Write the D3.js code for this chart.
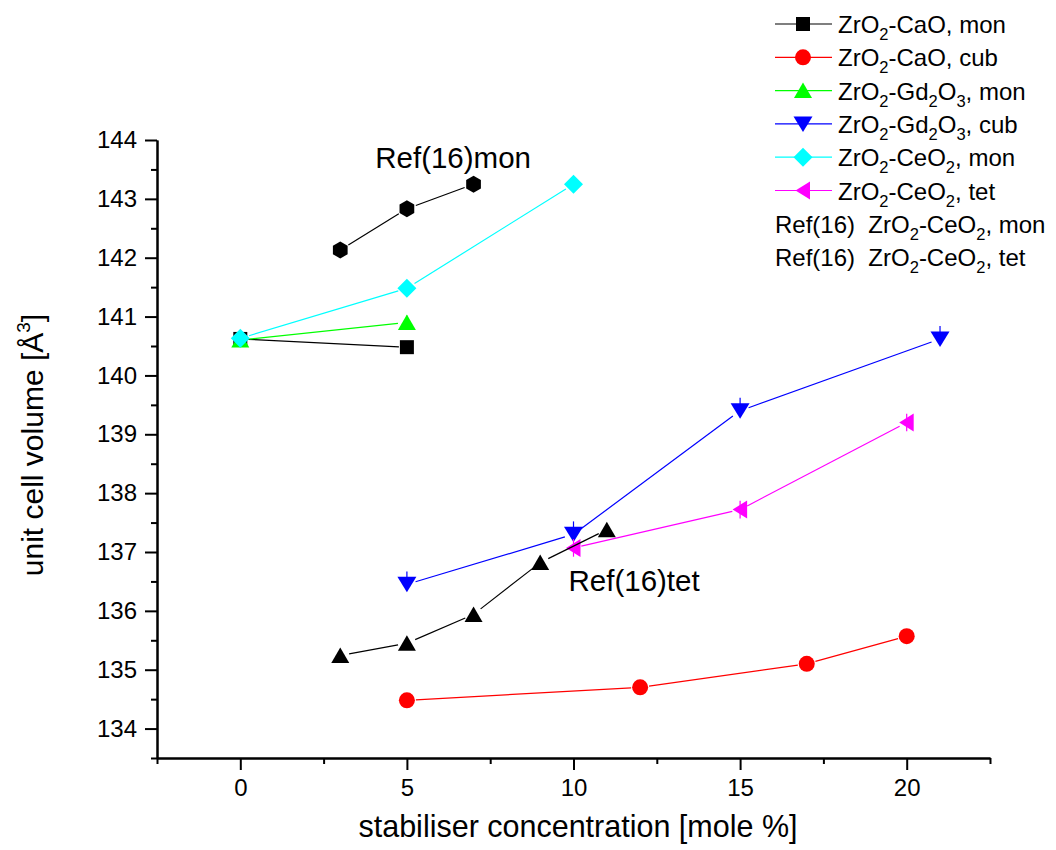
<!DOCTYPE html>
<html>
<head>
<meta charset="utf-8">
<script src="https://cdn.jsdelivr.net/npm/d3@7"></script>
<style>
  body { margin: 0; background: #fff; }
  svg { display: block; font-family: "Liberation Sans", Arial, sans-serif; }
</style>
</head>
<body>
<script>
// ---- data ----
const caoMonX = [0, 5];
const caoMonY = [140.62, 140.48];
const caoCubX = [5, 12, 17, 20];
const caoCubY = [134.48, 134.70, 135.10, 135.57];
const gdMonX = [0, 5];
const gdMonY = [140.60, 140.90];
const gdMonErr = [0.12, 0.12];
const gdCubX = [5, 10, 15, 21];
const gdCubY = [136.45, 137.30, 139.40, 140.62];
const gdCubErr = [0.22, 0.22, 0.22, 0.22];
const ceMonX = [0, 5, 10];
const ceMonY = [140.63, 141.48, 143.25];
const ceTetX = [10, 15, 20];
const ceTetY = [137.07, 137.72, 139.20];
const ceTetErr = [0.15, 0.15, 0.15];
const refMonX = [3, 5, 7];
const refMonY = [142.13, 142.83, 143.25];
const refTetX = [3, 5, 7, 9, 11];
const refTetY = [135.24, 135.45, 135.94, 136.82, 137.38];

const xTicks = [0, 5, 10, 15, 20];
const xMinorTicks = [-2.5, 2.5, 7.5, 12.5, 17.5, 22.5];
const yTicks = [134, 135, 136, 137, 138, 139, 140, 141, 142, 143, 144];
const yMinorTicks = [133.5, 134.5, 135.5, 136.5, 137.5, 138.5, 139.5, 140.5, 141.5, 142.5, 143.5];

const legendLabels = [
    "ZrO_2-CaO, mon",
    "ZrO_2-CaO, cub",
    "ZrO_2-Gd_2O_3, mon",
    "ZrO_2-Gd_2O_3, cub",
    "ZrO_2-CeO_2, mon",
    "ZrO_2-CeO_2, tet",
    "Ref(16)  ZrO_2-CeO_2, mon",
    "Ref(16)  ZrO_2-CeO_2, tet"
];

// series: drawing order = legend order, the Ref(16) ones last
const series = [
    { x: caoMonX, y: caoMonY, color: "#000000", shape: "square", gap: 8, legend: 0 },
    { x: caoCubX, y: caoCubY, color: "#ff0000", shape: "circle", gap: 9, legend: 1 },
    { x: gdMonX, y: gdMonY, color: "#00ff00", shape: "up", gap: 9, legend: 2, errUp: gdMonErr, errDown: gdMonErr },
    { x: gdCubX, y: gdCubY, color: "#0000ff", shape: "down", gap: 9, legend: 3, errUp: gdCubErr },
    { x: ceMonX, y: ceMonY, color: "#00ffff", shape: "diamond", gap: 9, legend: 4 },
    { x: ceTetX, y: ceTetY, color: "#ff00ff", shape: "left", gap: 8, legend: 5, errUp: ceTetErr, errDown: ceTetErr },
    { x: refMonX, y: refMonY, color: "#000000", shape: "hex", gap: 9.5 },
    { x: refTetX, y: refTetY, color: "#000000", shape: "up", gap: 9 }
];

const total_width = 1056, total_height = 850;
const plot = { left: 157, right: 990, top: 140, bottom: 758 };

const svg = d3.select("body").append("svg")
    .attr("width", total_width)
    .attr("height", total_height);

const x = d3.scaleLinear().domain([-2.5, 22.5]).range([plot.left, plot.right]);
const y = d3.scaleLinear().domain([133.5, 144]).range([plot.bottom, plot.top]);

function markerPath(shape) {
    switch (shape) {
        case "square": return "M-7,-7H7V7H-7Z";
        case "circle": return d3.symbol(d3.symbolCircle, Math.PI * 64)();
        case "up": return "M0,-8L9,7.5L-9,7.5Z";
        case "down": return "M0,8L9.5,-7.5L-9.5,-7.5Z";
        case "left": return "M-7.5,0L7,-9L7,9Z";
        case "diamond": return "M0,-9.5L9.5,0L0,9.5L-9.5,0Z";
        case "hex": {
            const pts = d3.range(6).map(k => {
                const a = (-90 + 60 * k) * Math.PI / 180;
                return [8.5 * Math.cos(a), 8.5 * Math.sin(a)];
            });
            return "M" + pts.map(p => p.join(",")).join("L") + "Z";
        }
    }
}

// text with "_c" meaning subscript c
function richText(sel, str, subSize, subOff) {
    const parts = str.split(/_(.)/);
    let shift = 0;
    parts.forEach((p, i) => {
        const isSub = i % 2 === 1;
        const target = isSub ? subOff : 0;
        if (!p) return;
        sel.append("tspan")
            .attr("dy", target - shift)
            .attr("font-size", isSub ? subSize : null)
            .text(p);
        shift = target;
    });
}

// ---- axes ----
svg.append("g")
    .attr("class", "x_axis")
    .attr("transform", "translate(0," + plot.bottom + ")")
    .call(d3.axisBottom(x).tickValues(xTicks).tickSize(12).tickSizeOuter(0).tickPadding(9));
svg.append("g")
    .attr("transform", "translate(0," + plot.bottom + ")")
    .call(d3.axisBottom(x).tickValues(xMinorTicks).tickSize(6).tickSizeOuter(0).tickFormat(""));

svg.append("g")
    .attr("class", "y_axis")
    .attr("transform", "translate(" + plot.left + ",0)")
    .call(d3.axisLeft(y).tickValues(yTicks).tickSize(12).tickSizeOuter(0).tickPadding(8));
svg.append("g")
    .attr("transform", "translate(" + plot.left + ",0)")
    .call(d3.axisLeft(y).tickValues(yMinorTicks).tickSize(6).tickSizeOuter(0).tickFormat(""));

svg.selectAll(".domain, .tick line")
    .attr("stroke", "#000")
    .attr("stroke-width", 2);
svg.selectAll(".tick text")
    .attr("fill", "#000")
    .attr("font-size", 24);

// axis titles
svg.append("text")
    .attr("x", 578)
    .attr("y", 837)
    .attr("text-anchor", "middle")
    .attr("font-size", 30.5)
    .text("stabiliser concentration [mole %]");

const yTitle = svg.append("text")
    .attr("transform", "translate(43," + 445 + ") rotate(-90)")
    .attr("text-anchor", "middle")
    .attr("font-size", 30);
yTitle.append("tspan").text("unit cell volume [Å");
yTitle.append("tspan").attr("font-size", 19).attr("dy", -13).text("3");
yTitle.append("tspan").attr("dy", 13).text("]");

// ---- series ----
const marks = svg.append("g").attr("class", "marks");
series.forEach(s => {
    const g = marks.append("g");
    const pts = s.x.map((xv, i) => [x(xv), y(s.y[i])]);
    // lines with a small gap at the markers
    for (let i = 0; i < pts.length - 1; i++) {
        const [x1, y1] = pts[i], [x2, y2] = pts[i + 1];
        const d = Math.hypot(x2 - x1, y2 - y1);
        if (d <= 2 * s.gap) continue;
        const ux = (x2 - x1) / d, uy = (y2 - y1) / d;
        g.append("line")
            .attr("x1", x1 + ux * s.gap).attr("y1", y1 + uy * s.gap)
            .attr("x2", x2 - ux * s.gap).attr("y2", y2 - uy * s.gap)
            .attr("stroke", s.color)
            .attr("stroke-width", 1.2);
    }
    // error bars
    s.x.forEach((xv, i) => {
        const up = s.errUp ? s.errUp[i] : 0;
        const dn = s.errDown ? s.errDown[i] : 0;
        if (!up && !dn) return;
        g.append("line")
            .attr("x1", x(xv)).attr("x2", x(xv))
            .attr("y1", y(s.y[i] + up)).attr("y2", y(s.y[i] - dn))
            .attr("stroke", s.color)
            .attr("stroke-width", 1.2);
    });
    g.selectAll("path.marker")
        .data(pts)
        .enter().append("path")
        .attr("class", "marker")
        .attr("d", markerPath(s.shape))
        .attr("transform", d => "translate(" + d[0] + "," + d[1] + ")")
        .attr("fill", s.color);
});

// annotations
svg.append("text")
    .attr("x", x(4.05)).attr("y", y(143.52))
    .attr("font-size", 29.5)
    .text("Ref(16)mon");
svg.append("text")
    .attr("x", x(9.85)).attr("y", y(136.34))
    .attr("font-size", 29.5)
    .text("Ref(16)tet");

// ---- legend ----
const legend = svg.append("g").attr("class", "legend");
legendLabels.forEach((label, i) => {
    const cy = 24 + 33.3 * i;
    const s = series.find(d => d.legend === i);
    if (s) {
        legend.append("line")
            .attr("x1", 775).attr("x2", 832)
            .attr("y1", cy).attr("y2", cy)
            .attr("stroke", s.color)
            .attr("stroke-width", 1.2);
        legend.append("path")
            .attr("d", markerPath(s.shape))
            .attr("transform", "translate(803," + cy + ")")
            .attr("fill", s.color);
    }
    const t = legend.append("text")
        .attr("x", s ? 838 : 775)
        .attr("y", cy + 9)
        .attr("font-size", 24)
        .style("white-space", "pre");
    richText(t, label, 16.5, 7);
});
</script>
</body>
</html>
